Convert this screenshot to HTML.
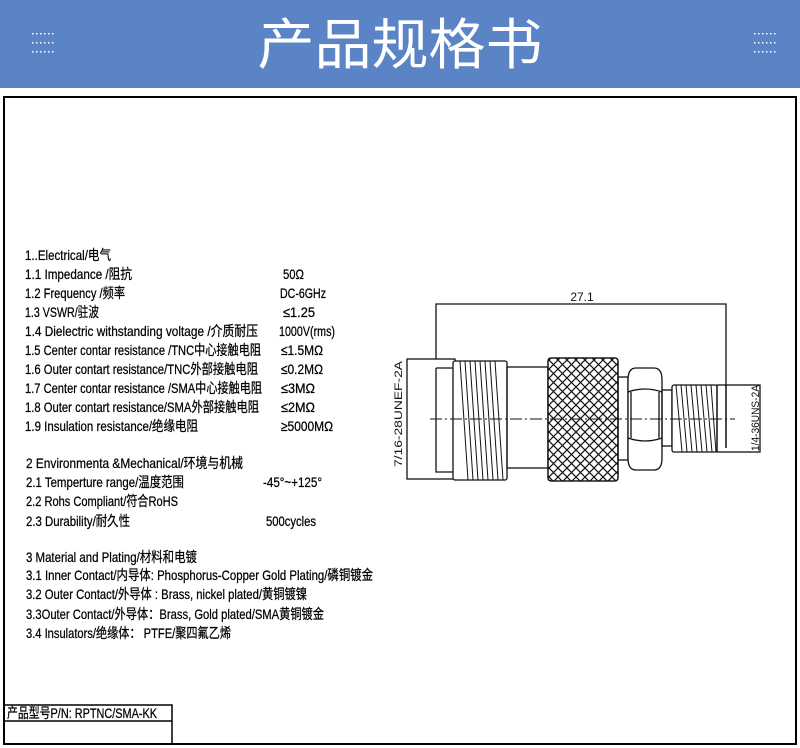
<!DOCTYPE html>
<html><head><meta charset="utf-8"><style>
html,body{margin:0;padding:0;background:#fff;width:800px;height:748px;overflow:hidden}
</style></head><body>
<svg width="800" height="748" viewBox="0 0 800 748" xmlns="http://www.w3.org/2000/svg" font-family="'Liberation Sans','Noto Sans CJK SC',sans-serif">
<defs>
<pattern id="kn" width="9" height="9" patternUnits="userSpaceOnUse">
<path d="M0,0 L9,9 M9,0 L0,9" stroke="#111" stroke-width="1.2"/>
</pattern>
<clipPath id="kc"><rect x="548" y="358" width="70" height="123" rx="3"/></clipPath>
</defs>
<rect x="0" y="0" width="800" height="88" fill="#5b84c6"/>
<text x="400" y="64" text-anchor="middle" font-size="55" fill="#fff" font-family="'Noto Sans CJK SC',sans-serif" textLength="285" lengthAdjust="spacingAndGlyphs">产品规格书</text>
<g fill="#fff">
<g id="dots"><rect x="32" y="33" width="1.5" height="1.5"/><rect x="36" y="33" width="1.5" height="1.5"/><rect x="40" y="33" width="1.5" height="1.5"/><rect x="44" y="33" width="1.5" height="1.5"/><rect x="48" y="33" width="1.5" height="1.5"/><rect x="52" y="33" width="1.5" height="1.5"/></g>
<use href="#dots" y="9"/><use href="#dots" y="18"/>
<use href="#dots" x="722"/><use href="#dots" x="722" y="9"/><use href="#dots" x="722" y="18"/>
</g>
<rect x="4" y="97" width="792" height="647" fill="none" stroke="#000" stroke-width="2"/>
<g font-size="14" fill="#000" stroke="#000" stroke-width="0.25">
<text x="25" y="260" textLength="86" lengthAdjust="spacingAndGlyphs">1..Electrical/电气</text>
<text x="25" y="279" textLength="107" lengthAdjust="spacingAndGlyphs">1.1 Impedance  /阻抗</text>
<text x="25" y="298" textLength="100" lengthAdjust="spacingAndGlyphs">1.2 Frequency /频率</text>
<text x="25" y="317" textLength="74" lengthAdjust="spacingAndGlyphs">1.3 VSWR/驻波</text>
<text x="25" y="336" textLength="233" lengthAdjust="spacingAndGlyphs">1.4 Dielectric withstanding voltage /介质耐压</text>
<text x="25" y="355" textLength="236" lengthAdjust="spacingAndGlyphs">1.5 Center contar resistance /TNC中心接触电阻</text>
<text x="25" y="374" textLength="233" lengthAdjust="spacingAndGlyphs">1.6 Outer contart resistance/TNC外部接触电阻</text>
<text x="25" y="393" textLength="237" lengthAdjust="spacingAndGlyphs">1.7 Center contar resistance /SMA中心接触电阻</text>
<text x="25" y="412" textLength="234" lengthAdjust="spacingAndGlyphs">1.8 Outer contart resistance/SMA外部接触电阻</text>
<text x="25" y="431" textLength="173" lengthAdjust="spacingAndGlyphs">1.9 Insulation  resistance/绝缘电阻</text>
<text x="283" y="279" textLength="21" lengthAdjust="spacingAndGlyphs">50Ω</text>
<text x="280" y="298" textLength="46" lengthAdjust="spacingAndGlyphs">DC-6GHz</text>
<text x="283" y="317" textLength="32" lengthAdjust="spacingAndGlyphs">≤1.25</text>
<text x="279" y="336" textLength="56" lengthAdjust="spacingAndGlyphs">1000V(rms)</text>
<text x="281" y="355" textLength="42" lengthAdjust="spacingAndGlyphs">≤1.5MΩ</text>
<text x="281" y="374" textLength="42" lengthAdjust="spacingAndGlyphs">≤0.2MΩ</text>
<text x="281" y="393" textLength="34" lengthAdjust="spacingAndGlyphs">≤3MΩ</text>
<text x="281" y="412" textLength="34" lengthAdjust="spacingAndGlyphs">≤2MΩ</text>
<text x="281" y="431" textLength="52" lengthAdjust="spacingAndGlyphs">≥5000MΩ</text>
<text x="26" y="468" textLength="217" lengthAdjust="spacingAndGlyphs">2 Environmenta &amp;Mechanical/环境与机械</text>
<text x="26" y="487" textLength="158" lengthAdjust="spacingAndGlyphs">2.1 Temperture range/温度范围</text>
<text x="263" y="487" textLength="59" lengthAdjust="spacingAndGlyphs">-45°~+125°</text>
<text x="26" y="506" textLength="152" lengthAdjust="spacingAndGlyphs">2.2 Rohs Compliant/符合RoHS</text>
<text x="26" y="526" textLength="104" lengthAdjust="spacingAndGlyphs">2.3 Durability/耐久性</text>
<text x="266" y="526" textLength="50" lengthAdjust="spacingAndGlyphs">500cycles</text>
<text x="26" y="562" textLength="171" lengthAdjust="spacingAndGlyphs">3 Material and Plating/材料和电镀</text>
<text x="26" y="580" textLength="347" lengthAdjust="spacingAndGlyphs">3.1 Inner Contact/内导体:  Phosphorus-Copper Gold Plating/磷铜镀金</text>
<text x="26" y="599" textLength="281" lengthAdjust="spacingAndGlyphs">3.2 Outer Contact/外导体 : Brass, nickel plated/黄铜镀镍</text>
<text x="26" y="619" textLength="298" lengthAdjust="spacingAndGlyphs">3.3Outer Contact/外导体：Brass, Gold plated/SMA黄铜镀金</text>
<text x="26" y="638" textLength="205" lengthAdjust="spacingAndGlyphs">3.4 Insulators/绝缘体：  PTFE/聚四氟乙烯</text>
<text x="7" y="718" textLength="150" lengthAdjust="spacingAndGlyphs">产品型号P/N:  RPTNC/SMA-KK</text>
</g>
<path d="M4,705 H172 V744 M4,721 H172" fill="none" stroke="#000" stroke-width="1.5"/>
<g fill="none" stroke="#111" stroke-width="1.3">
<path d="M436,360 V304 H726 V448"/>
<text x="582" y="301" font-size="12" fill="#111" stroke="none" text-anchor="middle">27.1</text>
<rect x="407" y="359" width="48" height="120" fill="#fff"/>
<path d="M436,368 H453 M436,368 V472 H453"/>
<rect x="453" y="361" width="54" height="119" rx="2" fill="#fff"/>
<path d="M460,361 L468,480 M470,361 L478,480 M480,361 L488,480 M490,361 L498,480 M465,361 L473,480 M475,361 L483,480 M485,361 L493,480 M495,361 L503,480" stroke-width="1"/>
<rect x="507" y="367" width="41" height="101"/>
<rect x="548" y="358" width="70" height="123" rx="3" fill="#fff"/>
<rect x="548" y="358" width="70" height="123" fill="url(#kn)" clip-path="url(#kc)" stroke="none"/>
<rect x="548" y="358" width="70" height="123" rx="3"/>
<rect x="618" y="377" width="10" height="83"/>
<path d="M636,368 H654 Q662,368 662,380 V458 Q662,470 654,470 H636 Q628,470 628,458 V380 Q628,368 636,368 Z" fill="#fff"/>
<path d="M628,392 Q645,386 662,392 M628,438 Q645,444 662,438 M631,392 V438 M659,392 V438"/>
<rect x="662" y="390" width="10" height="56"/>
<rect x="672" y="385" width="45" height="67" rx="2" fill="#fff"/>
<path d="M676,385 L682,452 M681,385 L687,452 M686,385 L692,452 M691,385 L697,452 M696,385 L702,452 M701,385 L707,452 M706,385 L712,452 M711,385 L716,452" stroke-width="1"/>
<rect x="717" y="385" width="43" height="67"/>
<path d="M726,385 V448"/>
<path d="M430,419 H735" stroke-width="1" stroke-dasharray="12,3,2,3"/>
<text transform="translate(402,467) rotate(-90)" font-size="11" fill="#111" stroke="none" textLength="106" lengthAdjust="spacingAndGlyphs">7/16-28UNEF-2A</text>
<text transform="translate(759,451) rotate(-90)" font-size="11" fill="#111" stroke="none" textLength="66" lengthAdjust="spacingAndGlyphs">1/4-36UNS-2A</text>
</g>
</svg>
</body></html>
